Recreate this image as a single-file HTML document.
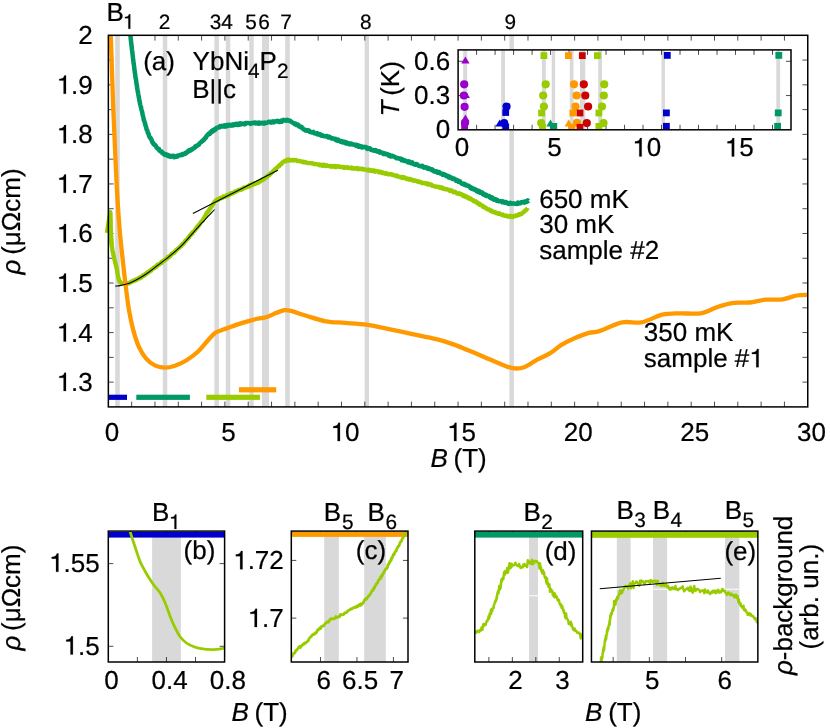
<!DOCTYPE html>
<html><head><meta charset="utf-8"><title>YbNi4P2 resistivity</title>
<style>
html,body{margin:0;padding:0;background:#fff;}
svg{display:block;will-change:transform;}
text{font-family:"Liberation Sans", sans-serif;fill:#000;stroke:#000;stroke-width:0.22px;text-rendering:geometricPrecision;}
</style></head>
<body>
<svg width="830" height="728" viewBox="0 0 830 728">
<rect width="830" height="728" fill="#fff"/>
<clipPath id="cm"><rect x="108.35" y="35.3" width="699.4" height="371.59999999999997"/></clipPath>
<rect x="115.2" y="35.3" width="4.6" height="371.6" fill="#d9d9d9"/>
<rect x="162.8" y="35.3" width="4.5" height="371.6" fill="#d9d9d9"/>
<rect x="214.4" y="35.3" width="4.5" height="371.6" fill="#d9d9d9"/>
<rect x="225.8" y="35.3" width="4.5" height="371.6" fill="#d9d9d9"/>
<rect x="249.3" y="35.3" width="4.4" height="371.6" fill="#d9d9d9"/>
<rect x="262.0" y="35.3" width="7.0" height="371.6" fill="#d9d9d9"/>
<rect x="285.2" y="35.3" width="4.6" height="371.6" fill="#d9d9d9"/>
<rect x="364.6" y="35.3" width="4.4" height="371.6" fill="#d9d9d9"/>
<rect x="509.4" y="35.3" width="4.5" height="371.6" fill="#d9d9d9"/>
<path d="M131.66,406.9 v-5.3 M131.66,35.3 v5.3 M154.98,406.9 v-5.3 M154.98,35.3 v5.3 M178.29,406.9 v-5.3 M178.29,35.3 v5.3 M201.60,406.9 v-5.3 M201.60,35.3 v5.3 M224.92,406.9 v-5.3 M224.92,35.3 v5.3 M248.23,406.9 v-5.3 M248.23,35.3 v5.3 M271.54,406.9 v-5.3 M271.54,35.3 v5.3 M294.86,406.9 v-5.3 M294.86,35.3 v5.3 M318.17,406.9 v-5.3 M318.17,35.3 v5.3 M341.48,406.9 v-5.3 M341.48,35.3 v5.3 M364.80,406.9 v-5.3 M364.80,35.3 v5.3 M388.11,406.9 v-5.3 M388.11,35.3 v5.3 M411.42,406.9 v-5.3 M411.42,35.3 v5.3 M434.74,406.9 v-5.3 M434.74,35.3 v5.3 M458.05,406.9 v-5.3 M458.05,35.3 v5.3 M481.36,406.9 v-5.3 M481.36,35.3 v5.3 M504.68,406.9 v-5.3 M504.68,35.3 v5.3 M527.99,406.9 v-5.3 M527.99,35.3 v5.3 M551.30,406.9 v-5.3 M551.30,35.3 v5.3 M574.62,406.9 v-5.3 M574.62,35.3 v5.3 M597.93,406.9 v-5.3 M597.93,35.3 v5.3 M621.24,406.9 v-5.3 M621.24,35.3 v5.3 M644.56,406.9 v-5.3 M644.56,35.3 v5.3 M667.87,406.9 v-5.3 M667.87,35.3 v5.3 M691.18,406.9 v-5.3 M691.18,35.3 v5.3 M714.50,406.9 v-5.3 M714.50,35.3 v5.3 M737.81,406.9 v-5.3 M737.81,35.3 v5.3 M761.12,406.9 v-5.3 M761.12,35.3 v5.3 M784.44,406.9 v-5.3 M784.44,35.3 v5.3 " stroke="#000" stroke-width="0.7" fill="none"/>
<path d="M108.35,382.13 h5.3 M807.75,382.13 h-5.3 M108.35,357.35 h5.3 M807.75,357.35 h-5.3 M108.35,332.58 h5.3 M807.75,332.58 h-5.3 M108.35,307.81 h5.3 M807.75,307.81 h-5.3 M108.35,283.03 h5.3 M807.75,283.03 h-5.3 M108.35,258.26 h5.3 M807.75,258.26 h-5.3 M108.35,233.49 h5.3 M807.75,233.49 h-5.3 M108.35,208.71 h5.3 M807.75,208.71 h-5.3 M108.35,183.94 h5.3 M807.75,183.94 h-5.3 M108.35,159.17 h5.3 M807.75,159.17 h-5.3 M108.35,134.39 h5.3 M807.75,134.39 h-5.3 M108.35,109.62 h5.3 M807.75,109.62 h-5.3 M108.35,84.85 h5.3 M807.75,84.85 h-5.3 M108.35,60.07 h5.3 M807.75,60.07 h-5.3 " stroke="#000" stroke-width="0.7" fill="none"/>
<g clip-path="url(#cm)" fill="none" stroke-linejoin="round" stroke-linecap="butt">
<path d="M130.1,32.8 L130.1,32.8 L130.2,33.9 L130.2,33.4 L130.3,34.5 L130.3,34.7 L130.4,34.7 L130.4,35.8 L130.5,35.7 L130.5,36.8 L130.6,36.8 L130.6,37.4 L130.7,38.5 L130.8,39.6 L130.8,39.3 L130.9,40.0 L131.0,41.2 L131.1,42.3 L131.1,42.5 L131.2,42.9 L131.3,44.4 L131.4,43.8 L131.4,45.6 L131.5,45.5 L131.6,46.0 L131.7,46.7 L131.8,47.7 L131.8,49.1 L131.9,48.9 L132.0,50.2 L132.1,50.9 L132.2,51.3 L132.3,52.2 L132.3,52.2 L132.4,52.8 L132.5,53.7 L132.6,54.9 L132.6,55.1 L132.7,55.6 L132.8,56.5 L132.9,56.9 L132.9,57.3 L133.0,58.6 L133.1,59.0 L133.1,59.0 L133.2,60.0 L133.3,60.5 L133.4,61.6 L133.4,62.0 L133.5,62.0 L133.6,63.6 L133.7,63.0 L133.8,64.0 L133.8,65.1 L133.9,64.9 L134.0,65.9 L134.1,65.9 L134.2,67.4 L134.2,68.2 L134.3,68.5 L134.4,69.6 L134.5,69.4 L134.6,70.5 L134.6,71.0 L134.7,71.6 L134.8,72.0 L134.9,73.2 L135.0,74.0 L135.1,73.9 L135.2,74.8 L135.3,74.6 L135.3,76.1 L135.4,76.6 L135.5,77.7 L135.6,78.0 L135.7,77.9 L135.8,78.6 L135.9,79.6 L136.0,79.3 L136.1,80.6 L136.2,80.7 L136.2,81.3 L136.3,81.8 L136.4,83.4 L136.5,83.1 L136.6,83.9 L136.7,84.7 L136.8,85.9 L136.9,85.4 L137.0,86.6 L137.1,87.3 L137.2,88.4 L137.3,88.9 L137.4,89.6 L137.5,89.3 L137.6,90.1 L137.7,90.7 L137.8,92.0 L137.9,92.7 L138.0,92.2 L138.1,92.8 L138.2,93.5 L138.3,94.1 L138.4,95.0 L138.5,95.8 L138.6,95.9 L138.7,96.2 L138.8,97.4 L139.0,97.9 L139.1,98.8 L139.2,99.9 L139.3,100.2 L139.4,100.5 L139.6,101.3 L139.7,101.9 L139.8,101.7 L139.9,103.4 L140.1,103.9 L140.2,104.6 L140.3,105.1 L140.4,105.2 L140.6,105.8 L140.7,106.0 L140.9,107.3 L141.0,107.2 L141.1,107.8 L141.3,108.6 L141.4,109.2 L141.6,110.1 L141.7,110.3 L141.9,110.8 L142.0,111.7 L142.2,112.2 L142.3,113.2 L142.5,113.4 L142.6,115.2 L142.8,115.4 L142.9,115.4 L143.1,116.1 L143.2,116.9 L143.4,117.5 L143.5,117.8 L143.7,119.4 L143.8,120.2 L144.0,120.0 L144.1,120.6 L144.3,120.6 L144.4,121.2 L144.6,122.1 L144.8,122.5 L144.9,123.9 L145.1,123.4 L145.2,123.8 L145.4,125.6 L145.5,125.5 L145.7,125.4 L145.8,126.5 L146.0,126.5 L146.3,127.9 L146.5,129.2 L146.7,129.7 L146.9,130.1 L147.1,130.1 L147.4,130.9 L147.6,131.2 L147.8,132.7 L148.0,132.9 L148.2,133.8 L148.4,133.7 L148.7,134.1 L148.9,135.5 L149.1,136.2 L149.3,136.5 L149.6,137.0 L149.8,137.5 L150.0,137.8 L150.3,137.6 L150.5,138.5 L150.8,138.7 L151.0,138.7 L151.3,139.2 L151.5,140.0 L151.8,140.5 L152.1,141.6 L152.5,142.6 L152.9,142.4 L153.2,143.6 L153.6,144.2 L154.0,144.7 L154.4,144.4 L154.8,144.7 L155.2,145.2 L155.6,145.7 L156.0,146.1 L156.4,147.2 L156.9,148.0 L157.3,148.4 L157.7,148.3 L158.1,148.9 L158.5,149.5 L158.9,148.9 L159.2,150.1 L159.6,150.8 L160.0,151.0 L160.5,151.4 L161.1,151.5 L161.6,151.5 L162.1,152.8 L162.6,152.5 L163.2,153.5 L163.7,154.1 L164.2,153.6 L164.7,153.9 L165.2,154.9 L165.7,154.8 L166.2,154.3 L166.7,154.5 L167.2,154.7 L167.8,156.0 L168.4,156.1 L169.0,155.3 L169.6,156.4 L170.2,156.8 L170.8,156.4 L171.5,156.1 L172.1,156.4 L172.7,155.9 L173.3,155.7 L173.9,157.1 L174.5,156.6 L175.1,156.4 L175.7,156.9 L176.3,156.2 L176.9,156.7 L177.5,156.5 L178.1,155.5 L178.7,155.4 L179.3,155.3 L179.9,155.0 L180.5,155.3 L181.1,154.7 L181.7,154.7 L182.3,154.1 L182.8,154.9 L183.4,153.9 L183.9,153.8 L184.5,153.7 L185.0,153.9 L185.6,152.9 L186.1,153.3 L186.7,152.5 L187.2,152.2 L187.8,151.9 L188.3,150.8 L188.9,151.1 L189.4,150.5 L189.9,149.9 L190.4,150.7 L191.0,149.5 L191.5,149.6 L192.0,149.6 L192.5,149.1 L193.0,148.4 L193.5,148.3 L194.0,148.0 L194.6,148.0 L195.1,146.6 L195.6,146.9 L196.1,146.0 L196.6,145.7 L197.0,146.0 L197.5,145.3 L197.9,145.0 L198.4,144.9 L198.8,144.7 L199.3,143.6 L199.7,143.4 L200.2,142.8 L200.7,142.4 L201.1,142.2 L201.6,141.5 L202.0,141.2 L202.5,140.6 L202.9,140.9 L203.4,140.1 L203.8,139.9 L204.3,139.6 L204.7,138.2 L205.1,138.2 L205.5,138.2 L205.9,137.7 L206.4,136.2 L206.8,135.7 L207.2,135.7 L207.6,134.8 L208.1,134.6 L208.5,133.9 L208.9,134.3 L209.3,134.0 L209.8,133.8 L210.2,132.4 L210.6,132.8 L211.1,132.3 L211.6,131.2 L212.1,131.8 L212.7,131.5 L213.2,130.1 L213.7,130.7 L214.2,129.6 L214.7,129.4 L215.2,129.8 L215.7,129.2 L216.3,128.0 L216.8,128.1 L217.3,128.0 L217.8,127.5 L218.4,127.0 L219.0,127.0 L219.6,127.3 L220.1,126.2 L220.7,126.8 L221.3,126.5 L221.9,125.8 L222.5,126.1 L223.1,126.4 L223.7,126.1 L224.4,125.4 L225.1,126.6 L225.6,126.2 L226.2,126.4 L226.8,125.1 L227.3,125.2 L227.9,124.8 L228.5,125.8 L229.1,125.0 L229.8,124.7 L230.4,125.1 L231.0,125.7 L231.6,125.5 L232.2,124.6 L232.9,124.4 L233.5,125.4 L234.1,124.9 L234.7,125.0 L235.3,124.1 L235.8,123.9 L236.4,124.8 L236.9,124.3 L237.4,123.8 L237.9,124.9 L238.4,124.4 L238.9,124.6 L239.4,123.5 L240.0,124.6 L240.6,123.4 L241.2,124.4 L241.9,123.8 L242.6,123.6 L243.4,123.8 L244.3,124.3 L244.8,123.3 L245.3,123.1 L245.8,123.7 L246.3,123.2 L246.9,123.0 L247.4,123.1 L248.0,122.9 L248.6,123.1 L249.2,123.2 L249.9,123.2 L250.5,123.8 L251.2,123.1 L251.8,123.4 L252.5,122.9 L253.1,123.1 L253.8,122.6 L254.5,122.9 L255.2,122.5 L255.8,123.5 L256.5,123.2 L257.2,122.7 L257.8,123.1 L258.5,123.7 L259.2,122.5 L259.8,123.5 L260.4,122.9 L261.0,123.0 L261.6,123.4 L262.2,122.8 L262.8,122.9 L263.4,123.1 L263.9,123.5 L264.6,122.5 L265.3,123.2 L266.1,122.9 L266.8,122.8 L267.5,122.4 L268.1,122.2 L268.8,121.8 L269.5,121.8 L270.1,121.7 L270.8,122.5 L271.4,121.8 L272.0,121.6 L272.7,121.4 L273.3,122.4 L273.8,122.4 L274.4,122.0 L275.0,121.4 L275.5,121.3 L276.0,121.3 L276.6,121.5 L277.1,121.0 L277.5,121.4 L278.0,121.1 L278.9,121.9 L279.8,121.9 L280.5,121.2 L281.2,120.7 L281.9,121.6 L282.5,120.6 L283.0,120.6 L283.5,120.0 L284.0,120.5 L284.5,120.6 L285.0,120.6 L285.9,120.1 L286.6,120.6 L287.2,119.9 L287.8,120.4 L288.5,120.3 L289.0,120.9 L289.5,120.5 L290.0,120.7 L290.5,121.3 L291.1,121.4 L291.7,122.1 L292.3,122.3 L293.0,123.0 L293.5,123.0 L293.9,123.4 L294.5,123.9 L295.0,123.5 L295.6,123.7 L296.1,124.9 L296.7,124.0 L297.3,125.2 L297.8,125.4 L298.4,124.8 L298.9,126.3 L299.5,126.7 L300.0,126.6 L300.6,127.1 L301.1,127.5 L301.6,126.9 L302.1,127.8 L302.6,128.1 L303.1,129.0 L303.6,129.3 L304.1,129.6 L304.7,129.6 L305.4,130.4 L306.1,130.5 L306.6,130.7 L307.0,130.2 L307.6,130.1 L308.1,130.5 L308.6,131.0 L309.2,130.8 L309.8,132.0 L310.4,131.8 L311.0,132.1 L311.6,132.3 L312.2,132.6 L312.8,132.5 L313.4,132.0 L314.1,133.3 L314.7,133.4 L315.3,133.3 L315.9,133.5 L316.4,133.8 L317.0,133.2 L317.6,134.3 L318.2,133.8 L318.7,133.7 L319.2,134.1 L319.7,134.9 L320.2,134.3 L320.7,135.2 L321.2,135.7 L321.8,135.2 L322.3,135.2 L322.9,135.5 L323.5,135.9 L324.1,136.2 L324.8,136.2 L325.6,136.5 L326.4,135.9 L327.3,136.3 L327.7,136.6 L328.2,137.4 L328.7,136.9 L329.1,137.5 L329.6,136.9 L330.1,137.1 L330.7,137.5 L331.2,138.3 L331.8,138.5 L332.3,138.6 L332.9,138.3 L333.5,138.8 L334.0,138.9 L334.6,139.1 L335.2,138.8 L335.8,140.1 L336.5,139.3 L337.1,140.6 L337.7,140.8 L338.3,139.7 L338.9,140.5 L339.6,141.2 L340.2,141.6 L340.8,141.1 L341.4,141.0 L342.0,141.1 L342.7,142.4 L343.3,141.5 L343.9,142.2 L344.5,141.8 L345.1,142.5 L345.7,143.3 L346.3,142.3 L346.8,143.5 L347.4,143.2 L348.0,143.9 L348.5,143.8 L349.1,143.3 L349.8,144.4 L350.4,144.0 L351.0,143.5 L351.6,143.6 L352.3,144.5 L352.9,144.6 L353.5,144.5 L354.1,144.4 L354.7,144.8 L355.3,144.9 L355.9,145.8 L356.5,144.8 L357.1,145.9 L357.7,146.2 L358.3,145.3 L358.8,146.6 L359.4,146.4 L360.0,146.8 L360.6,146.1 L361.2,146.3 L361.8,146.5 L362.4,147.5 L363.0,147.0 L363.5,146.9 L364.1,147.1 L364.7,147.0 L365.3,146.9 L365.9,147.1 L366.5,148.3 L367.1,147.7 L367.7,148.8 L368.3,148.0 L368.8,148.2 L369.4,148.7 L370.0,148.4 L370.6,148.9 L371.1,149.9 L371.7,149.9 L372.3,150.0 L372.9,149.9 L373.4,150.5 L374.0,150.8 L374.6,150.4 L375.2,150.8 L375.7,150.1 L376.3,151.2 L376.9,151.0 L377.5,151.6 L378.0,151.7 L378.6,151.4 L379.2,151.3 L379.8,152.7 L380.4,151.8 L381.0,152.4 L381.5,152.5 L382.1,152.6 L382.7,153.4 L383.3,154.0 L383.9,153.2 L384.5,153.9 L385.1,153.6 L385.7,154.2 L386.3,154.1 L386.8,154.0 L387.4,154.2 L387.9,154.4 L388.5,155.6 L389.0,155.2 L389.6,155.0 L390.1,156.2 L390.7,156.5 L391.2,155.9 L391.8,155.7 L392.3,155.9 L392.9,156.0 L393.5,156.5 L394.0,156.4 L394.6,156.8 L395.1,157.0 L395.7,157.6 L396.3,158.3 L396.8,158.3 L397.4,158.0 L398.0,158.2 L398.6,158.6 L399.1,158.6 L399.7,158.7 L400.3,158.5 L400.9,159.0 L401.5,160.2 L402.1,159.2 L402.7,160.0 L403.3,160.3 L403.9,160.9 L404.5,160.2 L405.1,160.5 L405.7,160.6 L406.2,161.0 L406.8,161.3 L407.3,162.2 L407.9,162.2 L408.4,162.4 L409.0,161.4 L409.6,161.6 L410.1,162.8 L410.7,163.2 L411.3,162.8 L411.8,163.2 L412.4,162.5 L413.0,163.3 L413.6,164.2 L414.1,164.2 L414.7,164.5 L415.3,164.8 L415.9,164.0 L416.5,164.0 L417.1,164.3 L417.6,165.0 L418.2,165.4 L418.8,166.0 L419.4,165.8 L420.0,165.9 L420.6,166.3 L421.2,166.1 L421.8,166.4 L422.4,165.9 L423.0,167.1 L423.5,166.6 L424.1,167.7 L424.7,167.5 L425.3,167.3 L425.9,167.2 L426.5,167.6 L427.1,168.4 L427.6,168.7 L428.2,168.0 L428.8,168.2 L429.4,169.0 L429.9,169.3 L430.5,169.3 L431.1,169.3 L431.7,170.0 L432.2,169.4 L432.8,170.0 L433.4,170.5 L434.0,171.4 L434.6,171.2 L435.1,171.7 L435.7,171.4 L436.3,171.3 L436.9,171.5 L437.5,172.8 L438.1,172.6 L438.7,172.3 L439.2,172.1 L439.8,173.0 L440.4,173.5 L441.0,173.4 L441.6,173.4 L442.2,174.2 L442.7,174.8 L443.3,174.1 L443.9,174.0 L444.4,174.7 L445.0,175.0 L445.6,175.6 L446.1,175.2 L446.7,176.3 L447.2,176.4 L447.8,176.3 L448.3,176.1 L448.8,177.4 L449.4,176.7 L449.9,177.7 L450.4,177.1 L450.9,177.3 L451.4,178.2 L451.9,177.8 L452.5,179.0 L453.1,178.7 L453.8,178.5 L454.3,178.8 L454.9,179.4 L455.5,180.0 L456.1,180.7 L456.7,179.8 L457.2,180.4 L457.8,180.5 L458.3,181.8 L458.8,180.9 L459.4,181.1 L459.9,181.3 L460.4,182.1 L461.0,183.1 L461.5,183.3 L462.0,183.4 L462.5,184.0 L463.0,184.2 L463.5,183.6 L464.1,183.7 L464.6,185.0 L465.1,185.0 L465.6,184.3 L466.1,185.4 L466.6,185.3 L467.2,185.5 L467.7,185.8 L468.2,185.8 L468.8,185.8 L469.3,186.5 L469.8,186.9 L470.4,188.0 L470.9,187.1 L471.5,188.6 L472.1,187.8 L472.6,188.3 L473.2,189.2 L473.8,189.5 L474.3,189.2 L474.9,189.0 L475.5,189.9 L476.0,190.0 L476.6,191.1 L477.2,190.3 L477.7,190.8 L478.3,191.9 L478.9,190.9 L479.4,191.8 L480.0,192.6 L480.5,192.8 L481.1,192.1 L481.6,192.3 L482.2,192.6 L482.7,194.1 L483.2,193.4 L483.7,194.3 L484.2,194.8 L484.7,194.3 L485.2,194.4 L485.7,195.6 L486.1,195.3 L486.6,195.1 L487.3,196.0 L487.9,195.8 L488.5,196.0 L489.1,195.9 L489.7,197.3 L490.3,197.8 L490.8,197.7 L491.4,198.4 L491.9,197.3 L492.4,197.9 L492.9,198.4 L493.4,199.4 L493.9,199.6 L494.4,199.0 L494.9,199.0 L495.5,199.5 L496.0,199.8 L496.5,200.6 L497.1,199.8 L497.6,200.8 L498.2,200.9 L498.8,201.2 L499.3,201.3 L499.9,201.3 L500.5,201.1 L501.1,201.2 L501.7,201.5 L502.3,202.2 L502.9,201.4 L503.6,201.7 L504.2,202.6 L504.8,202.1 L505.4,202.0 L506.0,202.0 L506.6,202.9 L507.2,202.7 L507.8,203.7 L508.4,203.7 L509.0,203.9 L509.6,203.0 L510.1,202.8 L510.7,202.9 L511.2,203.5 L511.9,203.8 L512.6,203.5 L513.3,203.2 L514.0,203.5 L514.7,203.7 L515.3,203.8 L516.0,203.8 L516.6,203.9 L517.2,203.6 L517.8,202.7 L518.4,203.6 L519.0,202.8 L519.6,203.1 L520.2,202.7 L520.8,203.1 L521.3,202.3 L522.0,202.2 L522.8,202.0 L523.5,201.7 L524.2,202.6 L524.9,201.9 L525.6,201.4 L526.2,201.2 L526.8,201.9 L527.4,201.0 L527.8,200.5 L528.3,201.1 L528.6,200.8" stroke="#009966" stroke-width="4.5"/>
</g>
<g fill="none" stroke-linejoin="round">
<path d="M106.9,232.8 L108.6,222.0 L110.2,212.3 L110.7,231.0 L111.7,245.4 " stroke="#99cc00" stroke-width="4.3" stroke-linejoin="round"/>
<path d="M110.2,212.9 L110.2,212.1 L110.2,213.0 L110.2,213.8 L110.2,214.2 L110.2,214.8 L110.3,214.3 L110.3,215.1 L110.3,215.4 L110.3,216.1 L110.3,217.7 L110.3,217.8 L110.3,218.9 L110.3,218.9 L110.4,220.2 L110.4,220.3 L110.4,220.8 L110.4,222.1 L110.4,223.0 L110.4,222.7 L110.5,224.0 L110.5,224.8 L110.5,225.0 L110.5,225.9 L110.5,226.3 L110.6,227.0 L110.6,227.7 L110.6,228.8 L110.6,229.5 L110.7,229.5 L110.7,229.9 L110.7,230.8 L110.7,231.9 L110.8,232.0 L110.8,232.8 L110.8,233.3 L110.9,234.7 L110.9,235.0 L110.9,235.1 L111.0,235.7 L111.0,236.7 L111.0,237.5 L111.1,238.2 L111.1,238.2 L111.1,238.8 L111.2,240.1 L111.2,240.3 L111.3,240.7 L111.3,241.3 L111.4,242.6 L111.4,242.4 L111.5,243.3 L111.5,243.6 L111.6,244.2 L111.6,245.3 L111.7,246.0 L111.8,245.9 L111.9,246.4 L112.0,247.7 L112.1,247.7 L112.2,248.1 L112.3,249.8 L112.4,249.8 L112.5,250.9 L112.6,251.0 L112.7,252.1 L112.9,252.2 L113.0,252.4 L113.1,252.9 L113.2,254.1 L113.4,254.8 L113.5,255.7 L113.6,255.3 L113.8,256.5 L113.9,256.8 L114.0,257.6 L114.2,257.8 L114.3,258.6 L114.5,259.5 L114.6,260.6 L114.8,260.3 L114.9,261.4 L115.1,262.4 L115.3,263.2 L115.4,262.9 L115.6,263.4 L115.7,265.0 L115.9,265.7 L116.0,265.7 L116.2,265.7 L116.3,267.4 L116.5,267.3 L116.6,268.4 L116.7,268.6 L116.8,269.6 L117.0,269.5 L117.1,270.9 L117.2,270.9 L117.3,271.8 L117.4,273.0 L117.5,273.6 L117.6,273.4 L117.7,274.1 L117.8,274.9 L117.9,275.6 L118.0,275.9 L118.1,276.1 L118.2,276.8 L118.4,278.1 L118.6,279.0 L118.8,278.6 L119.0,279.9 L119.2,280.7 L119.4,280.3 L119.7,281.8 L120.0,281.3 L120.3,282.3 L120.8,282.7 L121.3,283.2 L121.9,283.2 L122.6,283.6 L123.2,283.9 L123.9,283.9 L124.7,284.2 L125.2,283.9 L125.7,283.9 L126.2,283.3 L126.8,283.9 L127.3,283.6 L127.9,283.1 L128.5,283.5 L129.1,283.3 L129.8,282.7 L130.4,282.1 L131.1,282.2 L131.6,281.5 L132.1,281.3 L132.6,281.5 L133.1,280.8 L133.7,281.0 L134.2,280.8 L134.8,280.0 L135.3,280.4 L135.9,279.5 L136.5,280.0 L137.0,279.7 L137.6,279.1 L138.2,278.3 L138.7,278.5 L139.3,278.1 L139.8,278.4 L140.3,277.2 L140.8,277.7 L141.3,277.6 L141.9,276.9 L142.3,276.7 L142.8,275.6 L143.3,276.2 L143.8,275.3 L144.3,275.5 L144.8,275.1 L145.3,273.9 L145.9,274.3 L146.4,274.1 L146.9,272.7 L147.4,272.6 L148.0,272.7 L148.4,271.7 L148.9,272.2 L149.4,271.2 L149.8,271.5 L150.3,270.3 L150.7,270.4 L151.2,270.6 L151.7,269.4 L152.2,269.1 L152.6,269.0 L153.1,268.4 L153.6,267.7 L154.1,267.5 L154.6,267.1 L155.1,267.7 L155.6,267.0 L156.1,266.9 L156.6,265.6 L157.2,265.9 L157.7,264.7 L158.1,264.9 L158.6,264.7 L159.1,264.0 L159.5,264.3 L160.0,263.6 L160.5,263.2 L160.9,263.3 L161.4,262.0 L161.9,262.7 L162.4,261.9 L162.9,261.2 L163.4,261.3 L163.9,260.3 L164.4,260.8 L164.9,260.0 L165.4,259.3 L165.9,259.4 L166.4,258.7 L166.9,258.0 L167.4,258.3 L167.8,257.0 L168.3,257.6 L168.8,256.5 L169.3,256.6 L169.8,256.6 L170.2,255.7 L170.7,255.5 L171.1,254.7 L171.6,253.9 L172.1,253.6 L172.5,253.3 L173.0,253.5 L173.4,252.9 L173.9,252.6 L174.4,252.6 L174.8,251.3 L175.3,251.0 L175.7,251.2 L176.2,250.0 L176.7,249.6 L177.1,249.6 L177.6,248.8 L178.0,248.7 L178.5,248.1 L179.0,248.1 L179.4,247.7 L179.9,246.8 L180.3,246.8 L180.8,246.2 L181.2,245.4 L181.6,245.9 L182.0,244.6 L182.4,244.1 L182.8,243.6 L183.3,243.8 L183.7,243.6 L184.1,243.0 L184.5,242.1 L185.0,241.4 L185.4,240.6 L185.8,240.9 L186.2,240.3 L186.7,239.6 L187.1,239.4 L187.5,238.7 L187.9,238.8 L188.3,238.1 L188.7,237.0 L189.1,237.3 L189.5,235.8 L189.9,236.0 L190.3,235.4 L190.7,234.7 L191.0,234.1 L191.4,234.5 L191.7,233.2 L192.1,233.4 L192.4,233.5 L192.9,232.0 L193.4,231.5 L193.9,231.4 L194.4,230.7 L194.8,230.3 L195.3,230.0 L195.7,228.7 L196.1,228.4 L196.5,227.9 L196.9,227.1 L197.2,227.7 L197.6,227.1 L198.0,226.6 L198.3,225.3 L198.6,225.9 L198.9,225.4 L199.2,224.7 L199.5,224.7 L200.1,223.7 L200.5,222.8 L200.9,222.2 L201.2,222.0 L201.5,221.4 L201.8,221.4 L202.1,221.4 L202.5,220.8 L202.8,220.6 L203.1,219.9 L203.4,218.9 L203.7,218.7 L204.0,218.0 L204.3,217.9 L204.6,217.0 L204.9,216.1 L205.3,216.0 L205.6,215.8 L206.0,214.3 L206.3,214.6 L206.6,213.0 L207.0,212.8 L207.3,212.2 L207.7,212.3 L208.1,212.0 L208.5,211.2 L208.8,210.1 L209.2,210.2 L209.6,209.0 L210.0,208.4 L210.3,208.7 L210.7,207.8 L211.0,207.4 L211.4,206.8 L211.8,206.6 L212.1,205.4 L212.5,205.3 L212.8,204.5 L213.2,204.2 L213.5,203.2 L213.9,203.0 L214.3,202.4 L214.7,201.6 L215.1,201.1 L215.6,201.2 L216.0,200.2 L216.5,200.8 L217.0,199.6 L217.5,199.2 L218.0,199.1 L218.5,199.8 L219.1,198.8 L219.7,198.3 L220.3,197.9 L220.9,197.6 L221.4,198.2 L221.9,197.9 L222.4,197.7 L222.9,197.6 L223.4,196.6 L223.9,197.0 L224.4,196.5 L224.9,196.8 L225.5,196.5 L226.2,196.3 L226.8,195.1 L227.5,195.7 L228.3,195.5 L229.1,195.1 L229.5,193.9 L230.0,193.9 L230.4,193.5 L230.9,193.2 L231.4,194.0 L231.9,193.7 L232.5,193.3 L233.0,193.3 L233.5,192.8 L234.1,192.1 L234.7,191.7 L235.2,191.4 L235.8,191.9 L236.4,191.0 L237.0,190.9 L237.6,190.8 L238.2,190.0 L238.8,190.0 L239.4,189.8 L240.0,190.1 L240.6,189.4 L241.2,189.1 L241.7,189.6 L242.3,188.8 L242.9,189.0 L243.5,188.4 L244.0,187.5 L244.6,187.7 L245.2,187.5 L245.8,187.6 L246.4,186.9 L247.0,187.1 L247.6,186.6 L248.2,186.0 L248.8,186.5 L249.4,185.3 L250.0,186.0 L250.6,184.9 L251.2,184.5 L251.8,184.5 L252.4,184.9 L253.0,184.9 L253.6,183.5 L254.2,183.9 L254.8,183.6 L255.4,183.8 L256.0,182.8 L256.5,182.9 L257.1,182.5 L257.6,182.9 L258.1,181.9 L258.6,182.5 L259.1,181.5 L259.5,181.2 L260.0,181.5 L260.7,180.9 L261.3,180.1 L261.9,180.4 L262.5,179.3 L263.1,179.8 L263.6,179.4 L264.1,179.1 L264.6,178.6 L265.1,177.9 L265.5,177.6 L266.0,177.2 L266.4,177.5 L266.8,176.2 L267.2,176.8 L267.6,175.5 L268.0,175.4 L268.4,175.1 L269.0,175.4 L269.6,174.5 L270.1,173.9 L270.6,174.0 L271.0,172.8 L271.5,172.7 L271.9,172.3 L272.3,172.2 L272.7,171.8 L273.1,171.3 L273.5,170.6 L274.1,170.1 L274.6,169.4 L275.1,169.8 L275.5,169.2 L276.0,168.9 L276.4,167.8 L276.9,167.7 L277.3,167.7 L277.8,167.1 L278.3,166.1 L278.7,166.1 L279.2,166.2 L279.6,165.0 L280.1,164.5 L280.5,164.3 L281.0,164.3 L281.6,164.0 L282.1,162.7 L282.6,162.3 L283.1,162.0 L283.6,161.7 L284.1,161.6 L284.7,160.8 L285.3,160.8 L285.9,160.3 L286.4,161.1 L287.0,160.6 L287.6,159.6 L288.3,160.6 L288.9,159.4 L289.6,159.8 L290.4,160.5 L290.9,160.3 L291.5,160.3 L292.1,160.0 L292.7,159.8 L293.3,160.4 L294.0,159.8 L294.7,160.1 L295.3,160.4 L296.0,160.0 L296.6,160.6 L297.1,161.1 L297.6,161.1 L298.1,160.9 L298.6,161.1 L299.2,161.0 L299.8,160.8 L300.5,161.4 L301.3,161.3 L302.2,161.9 L302.7,162.2 L303.2,161.7 L303.7,162.0 L304.2,162.3 L304.8,162.0 L305.4,161.9 L306.0,162.6 L306.6,162.9 L307.2,162.9 L307.9,162.9 L308.5,163.2 L309.2,163.1 L309.9,163.2 L310.5,163.1 L311.2,163.1 L311.9,163.6 L312.5,163.1 L313.2,163.6 L313.8,164.1 L314.4,164.2 L315.0,164.2 L315.6,163.8 L316.2,164.1 L316.8,164.3 L317.5,164.5 L318.1,164.4 L318.6,164.8 L319.2,165.2 L319.8,164.4 L320.4,165.0 L321.0,165.3 L321.6,164.9 L322.1,165.1 L322.7,165.8 L323.3,164.7 L323.9,165.4 L324.5,165.0 L325.0,165.8 L325.6,166.1 L326.3,165.7 L326.9,165.2 L327.5,165.9 L328.1,165.9 L328.7,166.2 L329.3,166.0 L329.8,166.2 L330.4,166.5 L331.0,166.2 L331.6,166.1 L332.3,166.8 L332.9,166.0 L333.5,166.6 L334.1,166.3 L334.7,166.8 L335.3,166.1 L336.0,167.2 L336.6,166.5 L337.2,166.1 L337.8,166.5 L338.4,166.7 L339.1,166.3 L339.7,166.8 L340.3,166.8 L340.9,167.2 L341.5,166.9 L342.1,166.8 L342.7,166.8 L343.3,167.5 L344.0,167.8 L344.6,167.4 L345.2,167.1 L345.8,167.8 L346.4,167.4 L347.0,167.2 L347.6,167.2 L348.3,168.0 L348.9,168.1 L349.5,168.0 L350.1,167.8 L350.7,168.0 L351.3,167.6 L351.9,168.6 L352.6,167.9 L353.2,168.3 L353.8,168.6 L354.4,168.7 L355.0,168.3 L355.6,168.2 L356.2,168.6 L356.9,168.1 L357.5,169.0 L358.1,168.5 L358.7,169.2 L359.3,168.6 L359.9,168.8 L360.5,168.7 L361.1,169.0 L361.8,168.8 L362.4,168.6 L363.0,169.6 L363.6,169.1 L364.2,169.2 L364.8,169.3 L365.4,169.6 L366.1,169.6 L366.7,170.0 L367.3,170.1 L367.9,169.8 L368.5,170.6 L369.1,170.6 L369.7,169.7 L370.3,170.8 L370.9,170.9 L371.4,170.9 L372.0,170.2 L372.6,171.1 L373.2,171.0 L373.7,170.3 L374.3,170.4 L374.9,171.7 L375.5,171.4 L376.1,171.1 L376.7,171.0 L377.4,171.2 L378.0,171.4 L378.6,172.2 L379.3,171.8 L380.0,171.7 L380.7,172.7 L381.4,172.8 L381.9,172.1 L382.4,173.1 L383.0,172.9 L383.5,173.2 L384.0,173.2 L384.5,173.6 L385.1,173.5 L385.6,173.7 L386.1,173.1 L386.7,173.8 L387.2,173.7 L387.8,174.1 L388.3,173.9 L388.9,174.5 L389.5,174.3 L390.0,174.1 L390.6,174.2 L391.2,174.2 L391.8,174.8 L392.4,174.4 L393.1,175.0 L393.7,174.8 L394.3,175.4 L395.0,175.5 L395.7,175.8 L396.4,176.3 L397.1,175.5 L397.8,176.6 L398.5,176.4 L399.2,176.7 L400.0,177.0 L400.5,177.3 L401.0,176.9 L401.5,177.1 L402.0,177.9 L402.5,176.9 L403.1,177.8 L403.6,177.9 L404.2,177.3 L404.7,178.1 L405.3,178.4 L405.9,178.8 L406.5,178.3 L407.1,179.2 L407.7,178.8 L408.2,178.9 L408.9,179.6 L409.5,178.7 L410.1,179.7 L410.7,179.7 L411.3,179.5 L411.9,180.3 L412.6,179.9 L413.2,180.2 L413.8,180.4 L414.4,180.9 L415.1,180.4 L415.7,180.8 L416.3,180.9 L416.9,181.3 L417.6,181.8 L418.2,181.3 L418.8,182.1 L419.5,181.8 L420.1,182.0 L420.7,181.9 L421.3,182.4 L421.9,183.1 L422.5,182.9 L423.1,183.2 L423.7,182.8 L424.3,183.0 L424.9,183.1 L425.5,183.6 L426.0,183.8 L426.6,184.1 L427.2,183.4 L427.7,184.4 L428.3,184.7 L428.8,184.5 L429.4,184.0 L430.1,184.5 L430.7,184.3 L431.4,184.7 L432.0,185.8 L432.6,185.6 L433.3,185.8 L433.9,186.1 L434.5,186.5 L435.1,186.3 L435.7,186.4 L436.3,186.6 L436.9,186.9 L437.5,186.9 L438.1,187.2 L438.7,186.8 L439.3,187.5 L439.9,187.4 L440.5,187.9 L441.1,187.3 L441.6,187.6 L442.2,187.5 L442.8,188.6 L443.3,188.9 L443.9,188.8 L444.5,188.6 L445.0,189.3 L445.6,189.4 L446.1,189.3 L446.7,189.1 L447.2,189.3 L447.7,189.6 L448.3,189.7 L448.8,190.0 L449.3,190.4 L449.8,190.9 L450.4,190.0 L450.9,190.8 L451.4,190.4 L451.9,190.6 L452.5,191.7 L453.2,191.6 L453.8,192.3 L454.4,191.9 L455.0,191.6 L455.6,192.3 L456.2,192.7 L456.8,193.4 L457.4,193.6 L457.9,193.3 L458.5,193.4 L459.1,193.2 L459.6,194.1 L460.2,193.8 L460.7,194.0 L461.2,194.0 L461.8,194.2 L462.3,195.3 L462.8,194.8 L463.4,196.1 L463.9,195.3 L464.4,196.4 L465.0,195.8 L465.5,195.9 L466.0,197.0 L466.6,196.7 L467.1,197.5 L467.6,197.1 L468.2,197.2 L468.7,198.4 L469.3,198.6 L469.8,199.0 L470.4,199.1 L470.9,198.6 L471.4,199.6 L472.0,200.0 L472.5,200.0 L473.1,200.9 L473.6,200.4 L474.2,201.5 L474.7,201.6 L475.3,201.1 L475.8,201.4 L476.4,202.5 L476.9,203.0 L477.5,202.5 L478.0,203.1 L478.6,203.9 L479.1,203.6 L479.7,204.8 L480.2,204.6 L480.7,204.5 L481.3,205.1 L481.8,205.7 L482.3,205.9 L482.8,206.5 L483.3,206.1 L483.8,207.2 L484.3,207.0 L484.8,207.6 L485.2,207.8 L485.7,207.8 L486.2,208.0 L486.6,208.7 L487.3,209.3 L487.9,209.4 L488.5,209.5 L489.1,209.4 L489.7,209.5 L490.3,210.8 L490.8,210.8 L491.4,211.2 L491.9,210.8 L492.4,211.4 L492.9,212.0 L493.4,212.1 L493.9,212.0 L494.4,211.8 L494.9,212.2 L495.5,212.9 L496.0,212.5 L496.5,213.1 L497.1,213.1 L497.6,213.7 L498.2,213.8 L498.8,213.3 L499.3,213.2 L499.9,213.7 L500.5,214.1 L501.1,214.5 L501.7,214.9 L502.3,215.2 L502.9,214.4 L503.6,215.5 L504.2,215.6 L504.8,215.9 L505.4,215.7 L506.0,215.5 L506.6,216.3 L507.2,216.4 L507.8,216.4 L508.4,216.7 L509.0,216.1 L509.6,215.9 L510.1,216.5 L510.7,216.8 L511.2,216.1 L511.9,216.8 L512.5,217.0 L513.2,216.1 L513.9,216.4 L514.5,216.4 L515.1,216.0 L515.7,215.5 L516.4,215.4 L517.0,215.8 L517.5,215.6 L518.1,215.0 L518.7,214.3 L519.2,214.9 L519.8,214.7 L520.3,213.8 L520.8,213.9 L521.3,214.1 L521.9,213.7 L522.6,212.9 L523.2,212.4 L523.8,212.1 L524.3,211.2 L524.9,210.7 L525.4,210.2 L525.9,210.4 L526.3,209.5 L526.7,209.4 L527.1,208.8 L527.4,208.7 L527.7,208.0" stroke="#99cc00" stroke-width="4.3"/>
</g>
<g clip-path="url(#cm)" fill="none" stroke-linejoin="round">
<path d="M110.6,30.0 C111.0,43.2 112.5,87.3 113.3,109.0 C114.1,130.7 114.8,145.2 115.5,160.0 C116.2,174.8 116.7,186.5 117.4,198.0 C118.1,209.5 118.8,219.0 119.6,228.9 C120.4,238.8 121.5,248.6 122.5,257.7 C123.5,266.8 124.3,275.0 125.4,283.7 C126.5,292.4 127.6,302.0 128.9,309.7 C130.2,317.4 131.5,323.6 133.2,329.9 C134.9,336.1 136.8,342.4 139.0,347.2 C141.2,352.0 143.6,355.7 146.2,358.7 C148.8,361.7 151.7,363.9 154.8,365.4 C157.9,366.9 161.5,367.6 164.9,367.7 C168.3,367.8 171.4,366.9 175.0,365.7 C178.6,364.4 182.8,362.6 186.6,360.2 C190.4,357.8 194.5,354.9 198.1,351.5 C201.7,348.1 205.3,343.1 208.2,340.0 C211.1,336.9 212.8,334.6 215.4,332.8 C218.1,331.0 220.2,330.8 224.1,329.3 C227.9,327.9 233.7,325.7 238.5,324.1 C243.3,322.5 248.4,321.0 253.0,319.8 C257.6,318.6 262.1,318.3 265.9,317.2 C269.7,316.1 272.9,314.3 276.0,313.1 C279.1,311.9 282.2,310.6 284.7,310.2 C287.2,309.8 287.4,310.0 291.0,310.9 C294.6,311.8 300.5,314.1 306.3,315.8 C312.1,317.5 319.3,320.1 325.8,321.3 C332.3,322.5 338.5,322.3 345.3,322.9 C352.1,323.4 359.3,323.6 366.4,324.6 C373.4,325.6 379.7,327.2 387.6,328.8 C395.5,330.4 405.5,332.6 413.6,334.3 C421.7,336.0 429.9,337.6 436.4,339.2 C442.9,340.8 447.3,342.2 452.7,344.1 C458.1,346.0 463.5,348.4 468.9,350.6 C474.3,352.8 480.3,355.3 485.2,357.4 C490.1,359.5 493.6,361.2 498.2,363.0 C502.8,364.8 508.5,367.5 512.8,368.2 C517.1,368.9 520.1,368.6 524.2,367.2 C528.3,365.8 532.9,362.0 537.2,359.7 C541.5,357.4 546.2,355.6 550.2,353.2 C554.2,350.8 557.0,347.6 561.0,345.1 C565.0,342.7 569.4,340.5 574.0,338.5 C578.6,336.5 584.7,334.1 588.9,332.9 C593.1,331.7 593.9,332.9 599.4,331.1 C604.9,329.4 615.1,323.8 622.1,322.4 C629.1,320.9 634.6,323.7 641.3,322.4 C648.0,321.1 655.9,316.2 662.3,314.7 C668.7,313.2 673.4,313.5 679.8,313.3 C686.2,313.1 694.3,314.4 700.7,313.3 C707.1,312.2 712.7,308.4 718.2,306.7 C723.7,304.9 728.6,303.5 733.9,302.8 C739.1,302.1 744.5,303.0 749.7,302.5 C755.0,302.0 759.9,300.2 765.4,299.7 C770.9,299.2 777.6,300.0 782.8,299.3 C788.0,298.6 792.7,296.2 796.8,295.5 C800.9,294.8 805.5,294.9 807.3,294.8" stroke="#ff9900" stroke-width="4.3"/>
<path d="M115.3,286.1 C116.1,286.0 118.4,285.9 120.0,285.6 C121.6,285.3 122.9,285.0 124.7,284.5 C126.5,284.0 128.6,283.5 131.1,282.4 C133.6,281.3 137.0,279.6 139.8,278.0 C142.6,276.4 145.0,274.9 148.0,272.8 C151.0,270.7 154.1,268.1 157.7,265.4 C161.2,262.7 165.5,259.6 169.3,256.4 C173.2,253.2 177.0,250.2 180.8,246.4 C184.7,242.6 189.3,237.1 192.4,233.6 C195.5,230.1 197.6,227.7 199.5,225.6 C201.4,223.5 202.4,222.5 204.0,220.8 C205.6,219.1 207.2,217.3 209.0,215.4 C210.8,213.5 213.7,210.5 214.6,209.5" stroke="#000" stroke-width="1.1"/>
<path d="M192.9,213.6 L277.8,170.2" stroke="#000" stroke-width="1.1"/>
</g>
<rect x="108.3" y="394.7" width="18.7" height="5.2" fill="#0000cc"/>
<rect x="136.3" y="394.7" width="53.6" height="5.2" fill="#009966"/>
<rect x="206.3" y="394.7" width="53.6" height="5.2" fill="#99cc00"/>
<rect x="238.9" y="387.2" width="37.3" height="5.2" fill="#ff9900"/>
<rect x="108.35" y="35.3" width="699.4" height="371.6" fill="none" stroke="#000" stroke-width="1.5"/>
<text x="92.8" y="44.2" text-anchor="end" style="font-size:26px;">2</text>
<path d="M0.359,0 L0.267,0 L0.267,-0.505 L0.101,-0.505 L0.101,-0.570 C0.19,-0.572 0.275,-0.60 0.30,-0.703 L0.359,-0.703 Z" transform="translate(56.66 93.70) scale(26)" fill="#000" stroke="#000" stroke-width="0.0085"/>
<text x="92.8" y="93.7" text-anchor="end" style="font-size:26px;font-kerning:none;"><tspan visibility="hidden">1</tspan>.9</text>
<path d="M0.359,0 L0.267,0 L0.267,-0.505 L0.101,-0.505 L0.101,-0.570 C0.19,-0.572 0.275,-0.60 0.30,-0.703 L0.359,-0.703 Z" transform="translate(56.66 143.30) scale(26)" fill="#000" stroke="#000" stroke-width="0.0085"/>
<text x="92.8" y="143.3" text-anchor="end" style="font-size:26px;font-kerning:none;"><tspan visibility="hidden">1</tspan>.8</text>
<path d="M0.359,0 L0.267,0 L0.267,-0.505 L0.101,-0.505 L0.101,-0.570 C0.19,-0.572 0.275,-0.60 0.30,-0.703 L0.359,-0.703 Z" transform="translate(56.66 192.80) scale(26)" fill="#000" stroke="#000" stroke-width="0.0085"/>
<text x="92.8" y="192.8" text-anchor="end" style="font-size:26px;font-kerning:none;"><tspan visibility="hidden">1</tspan>.7</text>
<path d="M0.359,0 L0.267,0 L0.267,-0.505 L0.101,-0.505 L0.101,-0.570 C0.19,-0.572 0.275,-0.60 0.30,-0.703 L0.359,-0.703 Z" transform="translate(56.66 242.40) scale(26)" fill="#000" stroke="#000" stroke-width="0.0085"/>
<text x="92.8" y="242.4" text-anchor="end" style="font-size:26px;font-kerning:none;"><tspan visibility="hidden">1</tspan>.6</text>
<path d="M0.359,0 L0.267,0 L0.267,-0.505 L0.101,-0.505 L0.101,-0.570 C0.19,-0.572 0.275,-0.60 0.30,-0.703 L0.359,-0.703 Z" transform="translate(56.66 291.90) scale(26)" fill="#000" stroke="#000" stroke-width="0.0085"/>
<text x="92.8" y="291.9" text-anchor="end" style="font-size:26px;font-kerning:none;"><tspan visibility="hidden">1</tspan>.5</text>
<path d="M0.359,0 L0.267,0 L0.267,-0.505 L0.101,-0.505 L0.101,-0.570 C0.19,-0.572 0.275,-0.60 0.30,-0.703 L0.359,-0.703 Z" transform="translate(56.66 341.50) scale(26)" fill="#000" stroke="#000" stroke-width="0.0085"/>
<text x="92.8" y="341.5" text-anchor="end" style="font-size:26px;font-kerning:none;"><tspan visibility="hidden">1</tspan>.4</text>
<path d="M0.359,0 L0.267,0 L0.267,-0.505 L0.101,-0.505 L0.101,-0.570 C0.19,-0.572 0.275,-0.60 0.30,-0.703 L0.359,-0.703 Z" transform="translate(56.66 391.00) scale(26)" fill="#000" stroke="#000" stroke-width="0.0085"/>
<text x="92.8" y="391.0" text-anchor="end" style="font-size:26px;font-kerning:none;"><tspan visibility="hidden">1</tspan>.3</text>
<text x="111.9" y="441.1" text-anchor="middle" style="font-size:26px;">0</text>
<text x="228.5" y="441.1" text-anchor="middle" style="font-size:26px;">5</text>
<path d="M0.359,0 L0.267,0 L0.267,-0.505 L0.101,-0.505 L0.101,-0.570 C0.19,-0.572 0.275,-0.60 0.30,-0.703 L0.359,-0.703 Z" transform="translate(330.64 441.10) scale(26)" fill="#000" stroke="#000" stroke-width="0.0085"/>
<text x="345.1" y="441.1" text-anchor="middle" style="font-size:26px;font-kerning:none;"><tspan visibility="hidden">1</tspan>0</text>
<path d="M0.359,0 L0.267,0 L0.267,-0.505 L0.101,-0.505 L0.101,-0.570 C0.19,-0.572 0.275,-0.60 0.30,-0.703 L0.359,-0.703 Z" transform="translate(447.14 441.10) scale(26)" fill="#000" stroke="#000" stroke-width="0.0085"/>
<text x="461.6" y="441.1" text-anchor="middle" style="font-size:26px;font-kerning:none;"><tspan visibility="hidden">1</tspan>5</text>
<text x="578.2" y="441.1" text-anchor="middle" style="font-size:26px;">20</text>
<text x="694.8" y="441.1" text-anchor="middle" style="font-size:26px;">25</text>
<text x="811.4" y="441.1" text-anchor="middle" style="font-size:26px;">30</text>
<text x="458.6" y="467.2" text-anchor="middle" style="font-size:26px;word-spacing:-1.5px"><tspan style="font-style:italic">B</tspan> (T)</text>
<text transform="translate(20.3 221.4) rotate(-90)" text-anchor="middle" style="font-size:26px;word-spacing:-2.5px"><tspan style="font-style:italic">ρ</tspan> (μΩcm)</text>
<text x="106.4" y="21.2" style="font-size:26px">B</text>
<path d="M0.359,0 L0.267,0 L0.267,-0.505 L0.101,-0.505 L0.101,-0.570 C0.19,-0.572 0.275,-0.60 0.30,-0.703 L0.359,-0.703 Z" transform="translate(122.82 28.80) scale(20.8)" fill="#000" stroke="#000" stroke-width="0.0106"/>
<text x="128.6" y="28.8" text-anchor="middle" style="font-size:20.8px;font-kerning:none;"><tspan visibility="hidden">1</tspan></text>
<text x="164.5" y="28.8" text-anchor="middle" style="font-size:20.8px;">2</text>
<text x="215.5" y="28.8" text-anchor="middle" style="font-size:20.8px;">3</text>
<text x="227.0" y="28.8" text-anchor="middle" style="font-size:20.8px;">4</text>
<text x="251.0" y="28.8" text-anchor="middle" style="font-size:20.8px;">5</text>
<text x="264.0" y="28.8" text-anchor="middle" style="font-size:20.8px;">6</text>
<text x="286.0" y="28.8" text-anchor="middle" style="font-size:20.8px;">7</text>
<text x="365.9" y="28.8" text-anchor="middle" style="font-size:20.8px;">8</text>
<text x="510.2" y="28.8" text-anchor="middle" style="font-size:20.8px;">9</text>
<text x="143.2" y="70.3" text-anchor="start" style="font-size:26px;">(a)</text>
<text y="70.3" style="font-size:26px"><tspan x="192.6">YbNi</tspan><tspan x="248.1" dy="7.6" style="font-size:20.8px">4</tspan><tspan x="259.6" dy="-7.6">P</tspan><tspan x="276.9" dy="7.6" style="font-size:20.8px">2</tspan></text>
<text x="192.2" y="98.4" text-anchor="start" style="font-size:26px;">B||c</text>
<text x="539.2" y="207.8" text-anchor="start" style="font-size:26px;">650 mK</text>
<text x="539.2" y="232.8" text-anchor="start" style="font-size:26px;">30 mK</text>
<text x="539.2" y="258.7" text-anchor="start" style="font-size:26px;">sample #2</text>
<text x="643.8" y="341.3" text-anchor="start" style="font-size:26px;">350 mK</text>
<path d="M0.359,0 L0.267,0 L0.267,-0.505 L0.101,-0.505 L0.101,-0.570 C0.19,-0.572 0.275,-0.60 0.30,-0.703 L0.359,-0.703 Z" transform="translate(749.30 367.20) scale(26)" fill="#000" stroke="#000" stroke-width="0.0085"/>
<text x="643.8" y="367.2" text-anchor="start" style="font-size:26px;font-kerning:none;">sample #<tspan visibility="hidden">1</tspan></text>
<rect x="458.1" y="49.9" width="332.9" height="79.9" fill="#fff"/>
<rect x="463.2" y="49.9" width="4.0" height="79.9" fill="#d9d9d9"/>
<rect x="501.2" y="49.9" width="3.8" height="79.9" fill="#d9d9d9"/>
<rect x="541.9" y="49.9" width="3.9" height="79.9" fill="#d9d9d9"/>
<rect x="551.7" y="49.9" width="3.4" height="79.9" fill="#d9d9d9"/>
<rect x="569.8" y="49.9" width="3.7" height="79.9" fill="#d9d9d9"/>
<rect x="580.0" y="49.9" width="5.3" height="79.9" fill="#d9d9d9"/>
<rect x="598.2" y="49.9" width="3.8" height="79.9" fill="#d9d9d9"/>
<rect x="661.5" y="49.9" width="3.4" height="79.9" fill="#d9d9d9"/>
<rect x="776.3" y="49.9" width="3.8" height="79.9" fill="#d9d9d9"/>
<path d="M476.59,129.8 v-5.0 M476.59,49.9 v5.0 M495.09,129.8 v-5.0 M495.09,49.9 v5.0 M513.58,129.8 v-5.0 M513.58,49.9 v5.0 M532.08,129.8 v-5.0 M532.08,49.9 v5.0 M550.57,129.8 v-5.0 M550.57,49.9 v5.0 M569.07,129.8 v-5.0 M569.07,49.9 v5.0 M587.56,129.8 v-5.0 M587.56,49.9 v5.0 M606.06,129.8 v-5.0 M606.06,49.9 v5.0 M624.55,129.8 v-5.0 M624.55,49.9 v5.0 M643.04,129.8 v-5.0 M643.04,49.9 v5.0 M661.54,129.8 v-5.0 M661.54,49.9 v5.0 M680.03,129.8 v-5.0 M680.03,49.9 v5.0 M698.53,129.8 v-5.0 M698.53,49.9 v5.0 M717.02,129.8 v-5.0 M717.02,49.9 v5.0 M735.52,129.8 v-5.0 M735.52,49.9 v5.0 M754.01,129.8 v-5.0 M754.01,49.9 v5.0 M772.51,129.8 v-5.0 M772.51,49.9 v5.0 " stroke="#000" stroke-width="0.7" fill="none"/>
<path d="M458.1,95.56 h5.0 M791.0,95.56 h-5.0 M458.1,61.31 h5.0 M791.0,61.31 h-5.0 " stroke="#000" stroke-width="0.7" fill="none"/>
<clipPath id="ci"><rect x="458.1" y="49.9" width="332.9" height="79.9"/></clipPath>
<g clip-path="url(#ci)">
<path d="M461.2,63.4 L469.6,63.4 L465.4,56.4 Z" fill="#9900cc"/>
<circle cx="464.2" cy="84.3" r="4.1" fill="#9900cc"/>
<circle cx="463.9" cy="95.5" r="4.1" fill="#9900cc"/>
<path d="M464.0,98.0 L470.0,98.0 L467.0,93.0 Z" fill="#9900cc"/>
<circle cx="464.6" cy="106.8" r="4.1" fill="#9900cc"/>
<path d="M461.2,121.4 L469.6,121.4 L465.4,114.4 Z" fill="#9900cc"/>
<circle cx="465.0" cy="122.8" r="4.1" fill="#9900cc"/>
<rect x="461.2" y="124.2" width="6.8" height="6.8" fill="#9900cc"/>
<rect x="502.3" y="109.1" width="6.8" height="6.8" fill="#0000cc"/>
<circle cx="506.5" cy="106.5" r="4.1" fill="#0000cc"/>
<path d="M495.5,126.6 L503.9,126.6 L499.7,119.6 Z" fill="#0000cc"/>
<rect x="502.3" y="123.5" width="6.8" height="6.8" fill="#0000cc"/>
<circle cx="504.2" cy="123.1" r="4.1" fill="#0000cc"/>
<rect x="663.9" y="52.0" width="6.8" height="6.8" fill="#0000cc"/>
<rect x="663.0" y="109.5" width="6.8" height="6.8" fill="#0000cc"/>
<rect x="663.0" y="122.9" width="6.8" height="6.8" fill="#0000cc"/>
<rect x="540.5" y="52.2" width="6.8" height="6.8" fill="#99cc00"/>
<rect x="538.2" y="109.6" width="6.8" height="6.8" fill="#99cc00"/>
<rect x="539.1" y="124.0" width="6.8" height="6.8" fill="#99cc00"/>
<circle cx="545.7" cy="84.3" r="4.1" fill="#99cc00"/>
<circle cx="543.2" cy="95.5" r="4.1" fill="#99cc00"/>
<circle cx="543.9" cy="106.5" r="4.1" fill="#99cc00"/>
<circle cx="541.2" cy="123.1" r="4.1" fill="#99cc00"/>
<path d="M546.3,126.6 L554.7,126.6 L550.5,119.6 Z" fill="#009966"/>
<rect x="550.4" y="123.0" width="6.8" height="6.8" fill="#009966"/>
<rect x="775.4" y="52.0" width="6.8" height="6.8" fill="#009966"/>
<rect x="774.8" y="109.5" width="6.8" height="6.8" fill="#009966"/>
<rect x="774.2" y="122.9" width="6.8" height="6.8" fill="#009966"/>
<rect x="565.0" y="52.2" width="6.8" height="6.8" fill="#ff9900"/>
<rect x="569.5" y="109.6" width="6.8" height="6.8" fill="#ff9900"/>
<path d="M564.5,126.6 L572.9,126.6 L568.7,119.6 Z" fill="#ff9900"/>
<rect x="568.6" y="123.8" width="6.8" height="6.8" fill="#ff9900"/>
<circle cx="574.0" cy="84.3" r="4.1" fill="#ff9900"/>
<circle cx="576.6" cy="95.5" r="4.1" fill="#ff9900"/>
<circle cx="575.5" cy="106.5" r="4.1" fill="#ff9900"/>
<circle cx="577.0" cy="122.8" r="4.1" fill="#ff9900"/>
<rect x="578.9" y="52.2" width="6.8" height="6.8" fill="#cc0000"/>
<rect x="576.6" y="109.6" width="6.8" height="6.8" fill="#cc0000"/>
<rect x="576.6" y="123.9" width="6.8" height="6.8" fill="#cc0000"/>
<circle cx="583.8" cy="84.3" r="4.1" fill="#cc0000"/>
<circle cx="585.3" cy="95.5" r="4.1" fill="#cc0000"/>
<circle cx="588.1" cy="106.5" r="4.1" fill="#cc0000"/>
<circle cx="586.8" cy="123.1" r="4.1" fill="#cc0000"/>
<rect x="594.0" y="52.2" width="6.8" height="6.8" fill="#99cc00"/>
<rect x="595.5" y="109.6" width="6.8" height="6.8" fill="#99cc00"/>
<rect x="595.5" y="123.0" width="6.8" height="6.8" fill="#99cc00"/>
<circle cx="604.2" cy="84.3" r="4.1" fill="#99cc00"/>
<circle cx="603.8" cy="95.5" r="4.1" fill="#99cc00"/>
<circle cx="602.0" cy="106.5" r="4.1" fill="#99cc00"/>
<circle cx="603.5" cy="123.1" r="4.1" fill="#99cc00"/>
</g>
<rect x="458.1" y="49.9" width="332.9" height="79.9" fill="none" stroke="#000" stroke-width="1.5"/>
<text x="450.2" y="69.9" text-anchor="end" style="font-size:26px;">0.6</text>
<text x="450.2" y="104.2" text-anchor="end" style="font-size:26px;">0.3</text>
<text x="450.2" y="138.4" text-anchor="end" style="font-size:26px;">0</text>
<text x="461.9" y="156.4" text-anchor="middle" style="font-size:26px;">0</text>
<text x="554.4" y="156.4" text-anchor="middle" style="font-size:26px;">5</text>
<path d="M0.359,0 L0.267,0 L0.267,-0.505 L0.101,-0.505 L0.101,-0.570 C0.19,-0.572 0.275,-0.60 0.30,-0.703 L0.359,-0.703 Z" transform="translate(632.34 156.40) scale(26)" fill="#000" stroke="#000" stroke-width="0.0085"/>
<text x="646.8" y="156.4" text-anchor="middle" style="font-size:26px;font-kerning:none;"><tspan visibility="hidden">1</tspan>0</text>
<path d="M0.359,0 L0.267,0 L0.267,-0.505 L0.101,-0.505 L0.101,-0.570 C0.19,-0.572 0.275,-0.60 0.30,-0.703 L0.359,-0.703 Z" transform="translate(724.84 156.40) scale(26)" fill="#000" stroke="#000" stroke-width="0.0085"/>
<text x="739.3" y="156.4" text-anchor="middle" style="font-size:26px;font-kerning:none;"><tspan visibility="hidden">1</tspan>5</text>
<text transform="translate(398.9 88.8) rotate(-90)" text-anchor="middle" style="font-size:26px;word-spacing:-2.5px"><tspan style="font-style:italic">T</tspan> (K)</text>
<clipPath id="cb"><rect x="108.3" y="531.1" width="116.3" height="130.9"/></clipPath>
<rect x="152.1" y="531.1" width="28.8" height="130.9" fill="#d9d9d9"/>
<path d="M137.38,662.0 v-5.0 M137.38,531.1 v5.0 M166.45,662.0 v-5.0 M166.45,531.1 v5.0 M195.52,662.0 v-5.0 M195.52,531.1 v5.0 " stroke="#000" stroke-width="0.7" fill="none"/>
<path d="M108.3,563.60 h5.0 M224.6,563.60 h-5.0 M108.3,646.30 h5.0 M224.6,646.30 h-5.0 " stroke="#000" stroke-width="0.7" fill="none"/>
<rect x="108.3" y="532.0" width="116.3" height="5.6" fill="#0000cc"/>
<path clip-path="url(#cb)" d="M129.6,530.0 C130.3,532.3 132.5,539.2 134.1,544.0 C135.7,548.8 137.7,555.1 139.0,558.7 C140.3,562.4 140.8,563.2 142.2,565.9 C143.6,568.6 145.3,571.9 147.2,575.0 C149.1,578.1 151.5,581.8 153.7,584.8 C155.9,587.8 158.3,590.0 160.2,593.0 C162.1,596.0 163.5,599.0 165.1,602.8 C166.7,606.6 168.4,611.8 170.0,615.9 C171.6,620.0 173.2,623.9 174.9,627.3 C176.6,630.7 178.0,633.9 179.9,636.5 C181.8,639.1 184.0,641.2 186.4,643.0 C188.8,644.8 191.9,646.0 194.6,647.0 C197.3,648.0 199.7,648.5 202.7,648.9 C205.7,649.3 209.9,649.5 212.6,649.6 C215.3,649.7 217.1,649.5 219.1,649.2 C221.1,648.9 223.4,648.1 224.3,647.9" stroke="#99cc00" stroke-width="2.8" fill="none" stroke-linejoin="round"/>
<rect x="108.3" y="531.1" width="116.3" height="130.9" fill="none" stroke="#000" stroke-width="1.5"/>
<path d="M0.359,0 L0.267,0 L0.267,-0.505 L0.101,-0.505 L0.101,-0.570 C0.19,-0.572 0.275,-0.60 0.30,-0.703 L0.359,-0.703 Z" transform="translate(49.10 571.80) scale(26)" fill="#000" stroke="#000" stroke-width="0.0085"/>
<text x="99.7" y="571.8" text-anchor="end" style="font-size:26px;font-kerning:none;"><tspan visibility="hidden">1</tspan>.55</text>
<path d="M0.359,0 L0.267,0 L0.267,-0.505 L0.101,-0.505 L0.101,-0.570 C0.19,-0.572 0.275,-0.60 0.30,-0.703 L0.359,-0.703 Z" transform="translate(63.56 654.60) scale(26)" fill="#000" stroke="#000" stroke-width="0.0085"/>
<text x="99.7" y="654.6" text-anchor="end" style="font-size:26px;font-kerning:none;"><tspan visibility="hidden">1</tspan>.5</text>
<text x="111.5" y="689.4" text-anchor="middle" style="font-size:26px;">0</text>
<text x="169.6" y="689.4" text-anchor="middle" style="font-size:26px;">0.4</text>
<text x="227.8" y="689.4" text-anchor="middle" style="font-size:26px;">0.8</text>
<path d="M0.359,0 L0.267,0 L0.267,-0.505 L0.101,-0.505 L0.101,-0.570 C0.19,-0.572 0.275,-0.60 0.30,-0.703 L0.359,-0.703 Z" transform="translate(168.90 529.00) scale(20.8)" fill="#000" stroke="#000" stroke-width="0.0106"/>
<text y="520.8" style="font-size:26px"><tspan x="151.9">B</tspan><tspan x="168.9" dy="8.2" style="font-size:20.8px"><tspan visibility="hidden">1</tspan></tspan></text>
<text x="183.6" y="559.4" text-anchor="start" style="font-size:26px;">(b)</text>
<text transform="translate(20.3 597.6) rotate(-90)" text-anchor="middle" style="font-size:26px;word-spacing:-2.5px"><tspan style="font-style:italic">ρ</tspan> (μΩcm)</text>
<clipPath id="cc"><rect x="291.3" y="531.1" width="116.7" height="130.9"/></clipPath>
<rect x="324.2" y="531.1" width="14.6" height="130.9" fill="#d9d9d9"/>
<rect x="364.2" y="531.1" width="21.6" height="130.9" fill="#d9d9d9"/>
<path d="M320.48,662.0 v-5.0 M320.48,531.1 v5.0 M356.94,662.0 v-5.0 M356.94,531.1 v5.0 M393.41,662.0 v-5.0 M393.41,531.1 v5.0 " stroke="#000" stroke-width="0.7" fill="none"/>
<path d="M291.3,560.40 h5.0 M408.0,560.40 h-5.0 M291.3,618.10 h5.0 M408.0,618.10 h-5.0 " stroke="#000" stroke-width="0.7" fill="none"/>
<rect x="291.3" y="532.0" width="116.7" height="4.9" fill="#ff9900"/>
<path clip-path="url(#cc)" d="M291.8,655.3 L292.2,656.5 L292.8,654.7 L293.4,653.4 L294.1,653.4 L294.9,652.8 L295.7,650.7 L296.5,650.5 L297.4,649.1 L298.2,648.5 L298.9,647.0 L299.6,646.4 L300.4,647.5 L301.1,646.6 L301.9,645.3 L302.7,644.9 L303.5,643.7 L304.3,644.0 L305.1,642.7 L305.9,643.0 L306.7,642.0 L307.5,641.4 L308.2,640.9 L309.0,638.8 L309.8,637.7 L310.5,637.2 L311.3,636.3 L312.0,635.4 L312.8,634.5 L313.6,634.6 L314.3,634.4 L315.1,632.9 L315.9,633.1 L316.6,632.2 L317.4,630.0 L318.2,630.2 L319.0,629.1 L319.7,627.9 L320.5,628.6 L321.3,626.7 L322.1,626.5 L322.8,626.0 L323.6,625.9 L324.5,624.7 L325.3,623.5 L326.2,622.9 L327.1,621.7 L328.0,622.5 L328.8,621.9 L329.7,619.9 L330.5,619.0 L331.3,618.9 L332.0,618.6 L333.1,619.0 L334.1,618.6 L335.0,618.2 L335.9,616.5 L336.8,617.6 L337.7,617.1 L338.6,616.6 L339.5,616.8 L340.3,614.7 L341.2,614.4 L342.2,614.9 L343.3,614.7 L344.1,613.8 L345.0,612.6 L345.9,612.6 L346.9,612.3 L347.9,610.6 L348.9,610.4 L349.9,609.7 L350.8,608.9 L351.8,609.1 L352.8,608.0 L353.7,607.7 L354.7,607.1 L355.7,607.6 L356.7,606.0 L357.6,606.8 L358.5,605.4 L359.4,604.6 L360.2,605.7 L361.1,603.7 L362.0,604.2 L362.8,603.3 L363.5,602.5 L364.3,600.3 L365.0,600.0 L365.8,598.5 L366.4,599.3 L367.0,598.4 L367.6,597.4 L368.3,596.3 L368.9,595.4 L369.5,595.5 L370.1,594.0 L370.8,593.4 L371.5,591.6 L372.0,591.0 L372.5,589.9 L373.0,590.3 L373.6,589.1 L374.1,587.5 L374.6,587.9 L375.2,585.9 L375.7,585.3 L376.3,583.9 L376.9,583.2 L377.4,583.3 L378.0,581.5 L378.5,580.3 L379.0,580.0 L379.6,578.9 L380.1,579.1 L380.6,576.9 L381.2,577.6 L381.7,575.1 L382.2,575.8 L382.8,574.5 L383.3,572.9 L383.9,572.4 L384.4,571.2 L385.0,570.2 L385.6,569.1 L386.1,568.6 L386.5,568.8 L387.0,568.0 L387.5,567.0 L388.0,564.6 L388.5,564.0 L389.0,564.1 L389.5,561.7 L390.1,561.9 L390.6,560.2 L391.1,560.5 L391.6,557.8 L392.1,558.3 L392.6,556.5 L393.1,555.3 L393.5,554.1 L394.0,554.8 L394.6,553.3 L395.1,551.7 L395.6,551.2 L396.2,551.1 L396.7,548.9 L397.2,548.7 L397.7,547.0 L398.2,546.2 L398.7,546.4 L399.2,545.4 L399.7,543.6 L400.2,542.5 L400.6,541.6 L401.1,541.7 L401.6,540.5 L402.1,539.1 L402.7,537.9 L403.2,537.6 L403.7,536.7 L404.2,535.8 L404.7,534.4 L405.2,532.7 L405.7,531.6 L406.1,531.9 L406.4,530.6 L406.7,530.5 L407.0,528.8" stroke="#99cc00" stroke-width="2.8" fill="none" stroke-linejoin="round"/>
<rect x="291.3" y="531.1" width="116.7" height="130.9" fill="none" stroke="#000" stroke-width="1.5"/>
<path d="M0.359,0 L0.267,0 L0.267,-0.505 L0.101,-0.505 L0.101,-0.570 C0.19,-0.572 0.275,-0.60 0.30,-0.703 L0.359,-0.703 Z" transform="translate(233.20 569.30) scale(26)" fill="#000" stroke="#000" stroke-width="0.0085"/>
<text x="283.8" y="569.3" text-anchor="end" style="font-size:26px;font-kerning:none;"><tspan visibility="hidden">1</tspan>.72</text>
<path d="M0.359,0 L0.267,0 L0.267,-0.505 L0.101,-0.505 L0.101,-0.570 C0.19,-0.572 0.275,-0.60 0.30,-0.703 L0.359,-0.703 Z" transform="translate(247.66 627.00) scale(26)" fill="#000" stroke="#000" stroke-width="0.0085"/>
<text x="283.8" y="627.0" text-anchor="end" style="font-size:26px;font-kerning:none;"><tspan visibility="hidden">1</tspan>.7</text>
<text x="323.8" y="689.4" text-anchor="middle" style="font-size:26px;">6</text>
<text x="360.2" y="689.4" text-anchor="middle" style="font-size:26px;">6.5</text>
<text x="396.7" y="689.4" text-anchor="middle" style="font-size:26px;">7</text>
<text y="520.8" style="font-size:26px"><tspan x="323.8">B</tspan><tspan x="341.9" dy="8.2" style="font-size:20.8px">5</tspan><tspan x="367.4" dy="-8.2">B</tspan><tspan x="385.5" dy="8.2" style="font-size:20.8px">6</tspan></text>
<text x="355.8" y="558.6" text-anchor="start" style="font-size:26px;">(c)</text>
<text x="259.6" y="720.7" text-anchor="middle" style="font-size:26px;word-spacing:-1.5px"><tspan style="font-style:italic">B</tspan> (T)</text>
<clipPath id="cd"><rect x="474.8" y="531.1" width="107.9" height="130.9"/></clipPath>
<rect x="529.0" y="531.1" width="9.0" height="130.9" fill="#d9d9d9"/>
<rect x="529.0" y="595.3" width="9.0" height="1" fill="#fff"/>
<path d="M488.88,662.0 v-5.0 M488.88,531.1 v5.0 M512.35,662.0 v-5.0 M512.35,531.1 v5.0 M535.82,662.0 v-5.0 M535.82,531.1 v5.0 M559.28,662.0 v-5.0 M559.28,531.1 v5.0 " stroke="#000" stroke-width="0.7" fill="none"/>
<rect x="474.8" y="532.0" width="107.9" height="5.6" fill="#009966"/>
<path clip-path="url(#cd)" d="M474.6,633.4 L474.9,631.7 L475.4,632.3 L475.9,632.3 L476.5,632.7 L477.1,631.0 L477.7,630.8 L478.4,631.5 L479.1,632.0 L479.8,630.0 L480.5,630.9 L481.1,630.2 L481.5,627.5 L481.9,629.8 L482.3,629.9 L482.7,628.0 L483.1,624.9 L483.6,623.9 L484.0,625.7 L484.4,625.5 L484.8,624.9 L485.3,623.9 L485.7,624.9 L486.1,622.7 L486.5,621.7 L486.9,620.6 L487.4,621.1 L487.8,619.9 L488.2,618.8 L488.5,616.1 L488.7,618.9 L489.0,618.7 L489.3,618.1 L489.6,613.5 L489.8,616.4 L490.1,613.7 L490.4,614.6 L490.6,612.6 L490.9,609.8 L491.2,614.0 L491.4,609.8 L491.7,608.9 L492.0,610.6 L492.2,611.3 L492.5,608.7 L492.8,608.4 L493.0,608.5 L493.3,607.2 L493.6,608.1 L493.8,605.0 L494.1,605.2 L494.4,604.0 L494.7,603.1 L494.9,601.8 L495.2,601.3 L495.4,600.7 L495.6,601.8 L495.8,599.8 L496.1,600.7 L496.3,600.0 L496.5,597.9 L496.7,596.4 L496.9,598.8 L497.2,594.0 L497.4,595.0 L497.6,592.3 L497.8,593.4 L498.1,592.1 L498.3,590.4 L498.5,593.5 L498.7,590.8 L498.9,589.6 L499.2,585.9 L499.4,587.5 L499.6,589.4 L499.8,589.7 L500.0,585.9 L500.3,586.4 L500.5,587.3 L500.7,588.2 L500.9,582.2 L501.1,584.6 L501.3,580.9 L501.5,579.0 L501.7,581.6 L501.9,581.2 L502.1,580.3 L502.3,579.0 L502.7,579.6 L503.1,577.6 L503.4,579.2 L503.8,574.7 L504.2,572.0 L504.5,574.7 L504.9,574.6 L505.2,570.9 L505.5,571.5 L505.9,572.8 L506.2,570.6 L506.5,572.5 L506.9,571.5 L507.2,568.0 L507.6,573.0 L507.9,572.7 L508.4,570.3 L509.0,566.2 L509.5,563.1 L510.0,568.4 L510.5,566.1 L511.1,567.7 L511.6,563.6 L512.2,566.4 L512.8,564.8 L513.5,565.0 L514.1,565.2 L514.7,564.7 L515.4,562.7 L516.1,564.6 L516.8,565.2 L517.6,566.0 L518.3,566.2 L519.1,563.9 L519.8,566.0 L520.6,568.1 L521.3,567.1 L522.0,566.7 L522.7,567.5 L523.4,564.5 L524.2,564.1 L524.9,565.8 L525.6,564.8 L526.3,565.5 L527.1,567.1 L527.8,560.2 L528.5,560.8 L529.1,563.3 L529.8,561.8 L530.4,562.3 L531.2,564.1 L532.0,559.6 L532.7,564.4 L533.4,561.5 L534.1,563.3 L534.8,560.7 L535.4,561.0 L536.0,561.4 L536.6,561.6 L537.1,561.3 L537.6,562.7 L537.9,562.4 L538.3,563.2 L538.7,563.6 L539.0,565.1 L539.4,568.5 L539.8,563.2 L540.3,564.8 L540.5,567.4 L540.8,569.1 L541.1,567.4 L541.3,571.5 L541.6,569.6 L541.9,571.0 L542.2,572.0 L542.4,573.5 L542.7,570.3 L543.0,570.3 L543.3,572.5 L543.6,574.0 L544.0,572.2 L544.3,574.3 L544.6,577.0 L544.9,576.8 L545.2,578.3 L545.6,578.1 L545.9,577.2 L546.2,582.4 L546.5,579.8 L546.8,583.9 L547.1,578.4 L547.4,584.1 L547.7,582.7 L548.1,584.0 L548.4,586.8 L548.7,586.8 L549.0,585.9 L549.4,584.3 L549.7,587.5 L550.0,591.8 L550.4,588.8 L550.7,590.3 L551.0,589.8 L551.4,589.6 L551.7,591.7 L552.0,591.1 L552.4,590.9 L552.7,594.8 L553.0,595.6 L553.4,594.6 L553.8,594.4 L554.2,597.2 L554.7,593.3 L555.1,594.6 L555.5,597.2 L555.9,596.9 L556.3,596.1 L556.7,596.5 L557.1,597.7 L557.5,599.8 L557.9,600.6 L558.4,599.5 L558.8,599.8 L559.2,601.1 L559.6,603.9 L560.0,603.8 L560.3,605.2 L560.6,603.9 L560.9,604.5 L561.2,605.2 L561.5,607.8 L561.7,606.7 L562.0,606.8 L562.3,606.1 L562.6,608.7 L562.9,609.0 L563.2,610.8 L563.5,609.7 L563.8,612.7 L564.1,611.1 L564.4,613.5 L564.7,613.0 L565.0,617.1 L565.2,616.4 L565.5,614.5 L565.8,618.5 L566.1,613.4 L566.4,616.2 L566.7,617.9 L567.0,618.4 L567.4,619.3 L567.8,619.7 L568.2,620.3 L568.7,624.1 L569.1,623.3 L569.5,623.3 L569.9,622.9 L570.3,624.3 L570.8,621.8 L571.2,625.8 L571.6,623.6 L572.0,626.5 L572.4,626.7 L572.9,629.2 L573.3,628.1 L573.7,629.8 L574.1,630.5 L574.7,628.7 L575.2,630.2 L575.8,630.9 L576.4,631.0 L577.0,632.6 L577.6,633.1 L578.2,632.5 L578.8,633.3 L579.3,632.7 L579.8,633.7 L580.3,635.8 L580.7,638.5 L581.1,634.5 L582.2,634.5 L582.8,636.1 L583.1,635.5" stroke="#99cc00" stroke-width="2.4" fill="none" stroke-linejoin="round"/>
<rect x="474.8" y="531.1" width="107.9" height="130.9" fill="none" stroke="#000" stroke-width="1.5"/>
<text x="515.5" y="689.4" text-anchor="middle" style="font-size:26px;">2</text>
<text x="562.5" y="689.4" text-anchor="middle" style="font-size:26px;">3</text>
<text y="520.8" style="font-size:26px"><tspan x="523.6">B</tspan><tspan x="541.2" dy="8.2" style="font-size:20.8px">2</tspan></text>
<text x="544.7" y="559.6" text-anchor="start" style="font-size:26px;">(d)</text>
<clipPath id="ce"><rect x="591.45" y="531.1" width="166.4" height="130.9"/></clipPath>
<rect x="616.8" y="531.1" width="13.8" height="130.9" fill="#d9d9d9"/>
<rect x="616.8" y="588.7" width="13.8" height="1" fill="#fff"/>
<rect x="653.0" y="531.1" width="14.1" height="130.9" fill="#d9d9d9"/>
<rect x="653.0" y="588.7" width="14.1" height="1" fill="#fff"/>
<rect x="725.0" y="531.1" width="14.4" height="130.9" fill="#d9d9d9"/>
<rect x="725.0" y="588.7" width="14.4" height="1" fill="#fff"/>
<path d="M613.15,662.0 v-5.0 M613.15,531.1 v5.0 M649.33,662.0 v-5.0 M649.33,531.1 v5.0 M685.50,662.0 v-5.0 M685.50,531.1 v5.0 M721.68,662.0 v-5.0 M721.68,531.1 v5.0 " stroke="#000" stroke-width="0.7" fill="none"/>
<rect x="591.45" y="532.0" width="166.4" height="5.8" fill="#99cc00"/>
<path clip-path="url(#ce)" d="M600.9,663.7 L601.0,657.4 L601.1,664.4 L601.1,664.8 L601.2,660.9 L601.4,660.5 L601.5,661.5 L601.6,661.5 L601.7,657.0 L601.9,657.2 L602.0,658.6 L602.1,658.2 L602.3,657.0 L602.4,657.8 L602.6,653.4 L602.7,654.8 L602.9,651.6 L603.1,649.5 L603.2,650.2 L603.4,650.4 L603.5,649.2 L603.6,651.7 L603.7,646.7 L603.9,647.5 L604.0,648.2 L604.1,647.3 L604.2,649.6 L604.3,646.0 L604.4,647.3 L604.6,643.2 L604.7,641.8 L604.8,641.0 L604.9,641.7 L605.1,639.2 L605.2,639.8 L605.3,641.2 L605.4,640.6 L605.6,640.5 L605.7,637.5 L605.9,635.4 L606.0,637.1 L606.2,639.2 L606.4,634.8 L606.5,636.2 L606.7,634.0 L606.8,633.4 L607.0,630.2 L607.1,633.9 L607.3,629.6 L607.4,629.0 L607.6,631.4 L607.8,629.7 L607.9,629.0 L608.1,627.3 L608.3,629.1 L608.5,628.1 L608.6,627.1 L608.8,624.9 L609.0,625.0 L609.2,625.0 L609.4,622.3 L609.5,620.9 L609.7,625.0 L609.9,619.0 L610.1,620.1 L610.3,615.2 L610.5,617.8 L610.7,615.9 L610.8,614.9 L611.0,615.1 L611.2,613.6 L611.4,613.0 L611.6,613.5 L611.7,614.2 L611.9,613.7 L612.1,611.6 L612.4,609.8 L612.6,609.7 L612.9,610.4 L613.1,608.6 L613.4,610.5 L613.6,607.0 L613.9,607.8 L614.1,601.0 L614.4,604.2 L614.6,605.0 L614.9,604.1 L615.1,604.8 L615.4,603.7 L615.6,604.7 L615.9,600.4 L616.1,599.7 L616.4,599.0 L616.7,600.5 L616.9,599.2 L617.2,597.0 L617.5,597.8 L617.9,598.8 L618.3,596.8 L618.7,596.0 L619.1,593.9 L619.5,592.5 L620.0,590.3 L620.4,593.8 L620.8,592.9 L621.3,590.5 L621.7,593.2 L622.2,592.3 L622.6,591.0 L623.1,589.9 L623.5,589.7 L624.0,588.7 L624.6,587.6 L625.2,585.9 L625.7,585.9 L626.3,586.7 L626.9,586.0 L627.5,587.2 L628.1,588.9 L628.7,585.7 L629.4,586.2 L630.1,583.2 L630.8,588.5 L631.6,585.7 L632.2,584.9 L632.8,581.3 L633.5,588.0 L634.1,583.9 L634.8,583.3 L635.5,582.9 L636.2,581.4 L637.0,582.2 L637.7,583.8 L638.4,584.9 L639.2,585.7 L639.9,580.8 L640.7,583.5 L641.4,580.5 L642.2,581.7 L642.9,581.2 L643.6,582.0 L644.3,584.0 L645.0,583.4 L645.7,581.1 L646.5,581.0 L647.2,581.4 L647.9,581.3 L648.6,581.9 L649.3,580.7 L650.0,583.8 L650.8,580.1 L651.5,580.4 L652.2,581.3 L652.8,582.1 L653.5,580.9 L654.2,581.0 L654.9,580.6 L655.5,581.0 L656.2,583.1 L656.9,584.8 L657.6,580.8 L658.2,582.5 L658.9,583.8 L659.5,583.7 L660.2,585.5 L660.8,584.6 L661.4,584.0 L662.0,586.0 L662.7,582.6 L663.3,585.4 L664.0,584.2 L664.6,586.1 L665.3,585.2 L666.0,584.3 L666.7,586.7 L667.4,587.3 L668.1,585.8 L668.8,587.9 L669.5,589.4 L670.3,587.9 L671.0,589.4 L671.7,587.6 L672.5,587.3 L673.2,589.0 L673.9,588.8 L674.6,589.1 L675.4,586.0 L676.1,589.3 L676.8,588.8 L677.5,589.8 L678.3,590.0 L679.0,588.8 L679.7,588.9 L680.5,587.9 L681.2,587.8 L681.9,587.8 L682.6,586.3 L683.4,589.1 L684.1,591.3 L684.8,590.6 L685.6,589.5 L686.3,589.0 L687.0,589.3 L687.7,587.7 L688.4,588.9 L689.2,590.8 L689.9,588.0 L690.6,586.5 L691.3,591.3 L692.0,589.0 L692.8,592.8 L693.5,589.3 L694.2,585.9 L694.9,589.2 L695.6,591.0 L696.4,589.6 L697.1,588.9 L697.8,589.0 L698.5,589.7 L699.2,589.6 L700.0,592.0 L700.7,591.4 L701.4,591.0 L702.1,590.6 L702.8,590.2 L703.6,591.6 L704.3,593.2 L705.0,589.5 L705.7,592.1 L706.4,591.9 L707.2,592.6 L707.9,590.4 L708.6,591.8 L709.3,593.1 L710.1,594.1 L710.8,593.2 L711.6,591.6 L712.3,592.7 L713.1,590.7 L713.8,590.7 L714.6,592.4 L715.3,590.8 L716.0,593.2 L716.7,590.7 L717.5,591.4 L718.2,589.7 L718.8,592.6 L719.5,591.3 L720.3,592.5 L721.1,592.2 L721.9,589.5 L722.6,588.9 L723.3,591.0 L724.1,590.6 L724.8,590.6 L725.5,592.9 L726.2,593.1 L726.8,595.0 L727.5,593.7 L728.2,592.5 L728.9,592.9 L729.7,594.9 L730.4,595.2 L731.2,593.6 L731.9,594.0 L732.6,595.6 L733.3,595.3 L734.0,596.6 L734.6,597.5 L735.2,595.1 L735.8,594.7 L736.3,595.0 L736.7,597.6 L737.1,597.3 L737.4,598.5 L737.7,596.3 L738.0,597.5 L738.3,602.0 L738.6,601.4 L738.9,599.6 L739.3,603.4 L739.7,604.4 L740.1,602.8 L740.5,603.3 L741.0,606.2 L741.4,606.5 L741.9,606.2 L742.4,607.9 L743.0,608.0 L743.5,605.7 L744.0,610.1 L744.5,608.9 L745.1,610.7 L745.6,609.7 L746.1,611.1 L746.6,612.6 L747.1,612.5 L747.7,614.9 L748.3,613.2 L748.8,613.0 L749.4,614.6 L750.0,615.4 L750.5,613.7 L751.1,614.7 L751.6,615.7 L752.1,615.8 L752.6,616.3 L753.1,616.1 L753.6,616.9 L754.1,618.0 L754.6,619.0 L755.1,619.4 L755.6,618.1 L756.0,620.0 L756.4,619.5 L756.8,622.0 L757.2,622.4 L757.5,622.3 L757.7,621.6" stroke="#99cc00" stroke-width="2.4" fill="none" stroke-linejoin="round"/>
<path d="M599.8,588.8 L720.8,578.2" stroke="#000" stroke-width="1.05" fill="none"/>
<rect x="591.45" y="531.1" width="166.4" height="130.9" fill="none" stroke="#000" stroke-width="1.5"/>
<text x="652.3" y="689.4" text-anchor="middle" style="font-size:26px;">5</text>
<text x="724.7" y="689.4" text-anchor="middle" style="font-size:26px;">6</text>
<text y="519.2" style="font-size:26px"><tspan x="616.6">B</tspan><tspan x="634.2" dy="7.6" style="font-size:20.8px">3</tspan><tspan x="652.8" dy="-7.6">B</tspan><tspan x="670.4" dy="7.6" style="font-size:20.8px">4</tspan><tspan x="724.8" dy="-7.6">B</tspan><tspan x="742.4" dy="7.6" style="font-size:20.8px">5</tspan></text>
<text x="724.4" y="560.4" text-anchor="start" style="font-size:26px;">(e)</text>
<text x="613.2" y="720.7" text-anchor="middle" style="font-size:26px;word-spacing:-1.5px"><tspan style="font-style:italic">B</tspan> (T)</text>
<text transform="translate(791.6 595.4) rotate(-90)" text-anchor="middle" style="font-size:26px"><tspan style="font-style:italic">ρ</tspan>-background</text>
<text transform="translate(817.7 596.7) rotate(-90)" text-anchor="middle" style="font-size:26px">(arb. un.)</text>
</svg>
</body></html>
